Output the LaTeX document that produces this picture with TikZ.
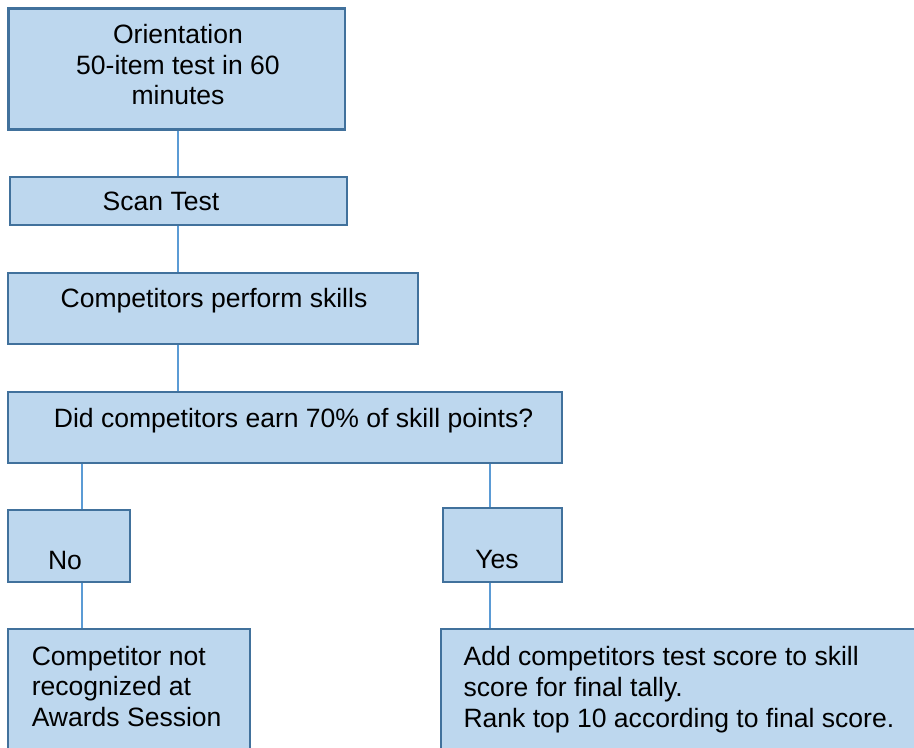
\documentclass[tikz,border=0pt]{standalone}
\usepackage{fontspec}
\setmainfont{Liberation Sans}
\usetikzlibrary{positioning,fit}
\definecolor{boxfill}{HTML}{BDD7EE}
\definecolor{boxdraw}{HTML}{41719C}
\definecolor{linkcol}{HTML}{5B9BD5}

\begin{document}
\begin{tikzpicture}[x=0.75pt, y=-0.75pt]
    \tikzset{
        n/.style        =   { rectangle
                            , draw=boxdraw
                            , fill=boxfill
                            , line width=1.8pt
                            , inner sep=0pt
        }
        , txt/.style    =   { inner sep=0pt
                            , font=\fontsize{19.9}{23}\selectfont
        }
        , link/.style   =   { draw=linkcol
                            , line width=0.9pt
        }
    }
    \useasboundingbox (0,0) rectangle (914,747);
    \clip (0,0) rectangle (914,747);

    % boxes
    \node(1)[n, fit={(8.3,8.3) (345,129.3)}] {};
    \node(2)[n, fit={(10,176.7) (346.7,225)}] {};
    \node(3)[n, fit={(8,273) (418,344)}] {};
    \node(4)[n, fit={(8,391.7) (562,462.7)}] {};
    \node(5)[n, fit={(8,510) (130,582)}] {};
    \node(6)[n, fit={(443,508) (562,582)}] {};
    \node(7)[n, fit={(8,629) (250,800)}] {};
    \node(8)[n, fit={(440.7,629) (960,800)}] {};

    % texts
    \node(t1)[txt, align=center, anchor=north] at (178,24)
        {Orientation\\50-item test in 60\\minutes};
    \node(t2)[txt, anchor=base] at (161,210.7) {Scan Test};
    \node(t3)[txt, anchor=base] at (214,307.3) {Competitors perform skills};
    \node(t4)[txt, anchor=base] at (293.5,427.3)
        {Did competitors earn 70\% of skill points?};
    \node(t5)[txt, anchor=base] at (65,569) {No};
    \node(t6)[txt, anchor=base] at (497,568) {Yes};
    \node(t7)[txt, align=left, anchor=north west] at (31.5,645.7)
        {Competitor not\\recognized at\\Awards Session};
    \node(t8)[txt, align=left, anchor=north west] at (463.3,646.3)
        {Add competitors test score to skill\\score for final tally.\\Rank top 10 according to final score.};

    % connectors
    \coordinate(x1) at (178,0);
    \coordinate(x2) at (82,0);
    \coordinate(x3) at (490,0);

    \draw[link] (1.south -| x1) -- (2.north -| x1);
    \draw[link] (2.south -| x1) -- (3.north -| x1);
    \draw[link] (3.south -| x1) -- (4.north -| x1);
    \draw[link] (4.south -| x2) -- (5.north -| x2);
    \draw[link] (4.south -| x3) -- (6.north -| x3);
    \draw[link] (5.south -| x2) -- (7.north -| x2);
    \draw[link] (6.south -| x3) -- (8.north -| x3);
\end{tikzpicture}
\end{document}
